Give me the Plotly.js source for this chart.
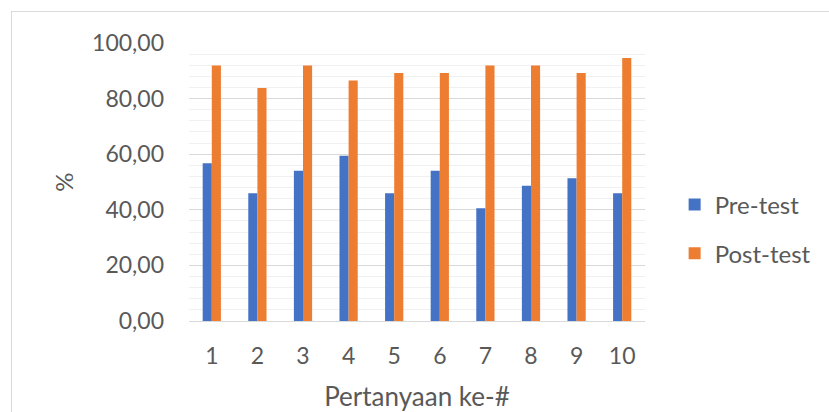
<!DOCTYPE html>
<html>
<head>
<meta charset="utf-8">
<script src="https://cdn.plot.ly/plotly-3.0.1.min.js"></script>
<style>
  html, body { margin: 0; padding: 0; background: #fff; }
  #wrap { position: relative; width: 829px; height: 412px; overflow: hidden; }
  #frame { position: absolute; left: 11px; top: 11px; width: 900px; height: 500px; border: 1px solid #d9d9d9; box-sizing: border-box; pointer-events: none; }
  #chart { position: absolute; left: 0; top: 0; width: 829px; height: 412px; }
</style>
</head>
<body>
<div id="wrap">
  <div id="frame"></div>
  <div id="chart"></div>
</div>
<script>
const categories = ['1', '2', '3', '4', '5', '6', '7', '8', '9', '10'];
const preTest = [56.76, 45.95, 54.05, 59.46, 45.95, 54.05, 40.54, 48.65, 51.35, 45.95];
const postTest = [91.89, 83.78, 91.89, 86.49, 89.19, 89.19, 91.89, 91.89, 89.19, 94.59];
const seriesNames = ['Pre-test', 'Post-test'];

const font = 'Lato, "Open Sans", sans-serif';
const textColor = '#595959';

const traces = [
  { type: 'bar', x: categories, y: preTest, name: seriesNames[0], marker: { color: '#4472c4' }, legend: 'legend' },
  { type: 'bar', x: categories, y: postTest, name: seriesNames[1], marker: { color: '#ed7d31' }, legend: 'legend2' }
];

const layout = {
  width: 829, height: 412,
  margin: { l: 189, r: 184, t: 43, b: 91 },
  paper_bgcolor: 'rgba(0,0,0,0)',
  plot_bgcolor: 'rgba(0,0,0,0)',
  separators: ',.',
  barmode: 'group',
  bargap: 0.6,
  bargroupgap: 0,
  font: { family: font, color: textColor, size: 23 },
  xaxis: {
    type: 'category',
    showline: true, linecolor: '#d9d9d9', linewidth: 1,
    ticks: '', ticklabelstandoff: 14,
    tickfont: { size: 23, color: textColor },
    title: { text: 'Pertanyaan ke-#', font: { size: 26, color: textColor }, standoff: 22 }
  },
  yaxis: {
    range: [0, 100], dtick: 20, tickformat: '.2f',
    showgrid: true, gridcolor: '#d9d9d9', gridwidth: 1,
    zeroline: false, showline: false,
    ticks: '', ticklabelstandoff: 24,
    tickfont: { size: 23, color: textColor },
    minor: { dtick: 4, showgrid: true, gridcolor: '#f0f0f0', gridwidth: 1 },
    title: { text: '%', font: { size: 24, color: textColor }, standoff: 11 }
  },
  showlegend: true,
  legend: { x: 1.065, y: 0.418, xanchor: 'left', yanchor: 'middle', font: { size: 24, color: textColor }, bgcolor: 'rgba(0,0,0,0)' },
  legend2: { x: 1.065, y: 0.242, xanchor: 'left', yanchor: 'middle', font: { size: 24, color: textColor }, bgcolor: 'rgba(0,0,0,0)' }
};

Plotly.newPlot('chart', traces, layout, { displayModeBar: false, staticPlot: true });
</script>
</body>
</html>
